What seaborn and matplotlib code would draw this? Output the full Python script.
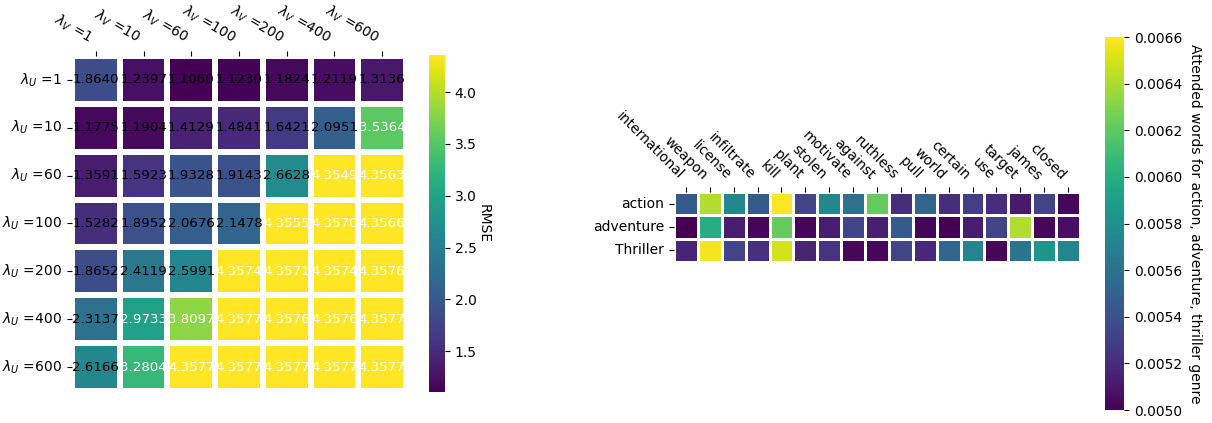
import numpy as np
import pandas as pd
import matplotlib
matplotlib.use("Agg")
import matplotlib.pyplot as plt
import seaborn as sns

# RMSE grid over the two regularisation weights
lambda_u = [1, 10, 60, 100, 200, 400, 600]
lambda_v = [1, 10, 60, 100, 200, 400, 600]
rmse_rows = [
    [1.8640, 1.2397, 1.1060, 1.1230, 1.1824, 1.2119, 1.3136],
    [1.1775, 1.1904, 1.4129, 1.4841, 1.6421, 2.0951, 3.5364],
    [1.3591, 1.5923, 1.9328, 1.9143, 2.6628, 4.3549, 4.3563],
    [1.5282, 1.8952, 2.0676, 2.1478, 4.3555, 4.3570, 4.3566],
    [1.8652, 2.4119, 2.5991, 4.3574, 4.3571, 4.3574, 4.3576],
    [2.3137, 2.9733, 3.8097, 4.3577, 4.3576, 4.3576, 4.3577],
    [2.6166, 3.2804, 4.3577, 4.3577, 4.3577, 4.3577, 4.3577],
]

# Attention weights of words per genre
genres = ["action", "adventure", "Thriller"]
words = ["international", "weapon", "license", "infiltrate", "kill", "plant",
         "stolen", "motivate", "against", "ruthless", "pull", "world",
         "certain", "use", "target", "james", "closed"]
action_att = [0.00545, 0.00641, 0.00575, 0.00545, 0.00660, 0.00532, 0.00575,
              0.00559, 0.00622, 0.00521, 0.00551, 0.00521, 0.00529, 0.00521,
              0.00511, 0.00532, 0.00503]
adventure_att = [0.00500, 0.00599, 0.00513, 0.00502, 0.00622, 0.00502, 0.00513,
                 0.00532, 0.00514, 0.00545, 0.00502, 0.00500, 0.00513, 0.00532,
                 0.00641, 0.00503, 0.00506]
thriller_att = [0.00516, 0.00657, 0.00532, 0.00522, 0.00649, 0.00516, 0.00524,
                0.00503, 0.00503, 0.00532, 0.00518, 0.00553, 0.00572, 0.00503,
                0.00561, 0.00583, 0.00572]

W, H = 1212, 423
fig = plt.figure(figsize=(W / 100, H / 100), dpi=100)


def box(x0, y0, x1, y1):
    return [x0 / W, 1 - y1 / H, (x1 - x0) / W, (y1 - y0) / H]


# ---- left: RMSE heatmap ----
ax1 = fig.add_axes(box(72, 56, 406, 391))
cax1 = fig.add_axes(box(429, 55, 445, 392))
rmse = pd.DataFrame(rmse_rows,
                    index=[rf"$\lambda_U$ ={u}" for u in lambda_u],
                    columns=[rf"$\lambda_V$ ={v}" for v in lambda_v])
sns.heatmap(rmse, ax=ax1, cbar_ax=cax1, cmap="viridis", annot=True, fmt=".4f",
            annot_kws={"fontsize": 9.6}, linewidths=3, linecolor="white",
            cbar_kws={"label": "RMSE"})
for t in ax1.texts:
    t.set_color("white" if float(t.get_text()) > 2.8 else "black")
ax1.xaxis.tick_top()
ax1.set_xlabel("")
ax1.set_ylabel("")
plt.setp(ax1.get_xticklabels(), rotation=-30, ha="right", va="bottom",
         fontsize=10)
plt.setp(ax1.get_yticklabels(), rotation=0, fontsize=10)
cb1 = ax1.collections[0].colorbar
cb1.ax.tick_params(labelsize=10)
cb1.set_label("RMSE", rotation=270, labelpad=10, fontsize=10)
cb1.outline.set_visible(True)

# ---- right: attention heatmap ----
ax2 = fig.add_axes(box(674, 192, 1080, 262))
cax2 = fig.add_axes(box(1105, 37, 1124, 410))
att = pd.DataFrame([action_att, adventure_att, thriller_att],
                   index=genres, columns=words)
sns.heatmap(att, ax=ax2, cbar_ax=cax2, cmap="viridis", vmin=0.0050,
            vmax=0.0066, linewidths=0.8, linecolor="white")
ax2.xaxis.tick_top()
ax2.set_xlabel("")
ax2.set_ylabel("")
plt.setp(ax2.get_xticklabels(), rotation=-45, ha="right", va="bottom",
         fontsize=10)
plt.setp(ax2.get_yticklabels(), rotation=0, fontsize=10)
cb2 = ax2.collections[0].colorbar
cb2.set_ticks(np.arange(0.0050, 0.00661, 0.0002))
cb2.ax.yaxis.set_major_formatter(matplotlib.ticker.FormatStrFormatter("%.4f"))
cb2.ax.tick_params(labelsize=10)
cb2.set_label("Attended words for action, adventure, thriller genre",
              rotation=270, labelpad=14, fontsize=10)

fig.savefig("out.png", dpi=100)
